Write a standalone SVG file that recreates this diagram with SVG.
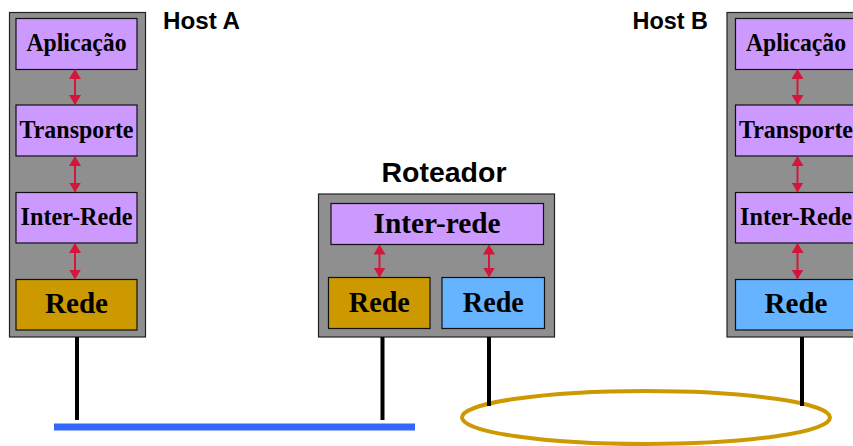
<svg xmlns="http://www.w3.org/2000/svg" width="853" height="446" viewBox="0 0 853 446">
<style>
.outer{fill:#8f8f8f;stroke:#222;stroke-width:1.2}
.lay{stroke:#111;stroke-width:1.2}
.purple{fill:#cc99ff}
.orange{fill:#cc9900}
.blue{fill:#66b3ff}
.lbl{font-family:"Liberation Serif",serif;font-weight:bold;font-size:26px;text-anchor:middle;fill:#000}
.big{font-size:30px}
.title{font-family:"Liberation Sans",Arial,sans-serif;font-weight:bold;fill:#000}
.arr{stroke:#d4163c;stroke-width:2;marker-start:url(#ah);marker-end:url(#ah)}
.wire{stroke:#000;stroke-width:4}
</style>
<defs>
<marker id="ah" viewBox="0 0 10 12" refX="9" refY="6" markerWidth="10" markerHeight="12" markerUnits="userSpaceOnUse" orient="auto-start-reverse">
<path d="M0,0 L10,6 L0,12 Z" fill="#d4163c"/>
</marker>
</defs>
<rect width="853" height="446" fill="#fff"/>
<g id="hostA">
<rect class="outer" x="9.5" y="12.5" width="136" height="324.5"/>
<rect class="lay purple" x="16" y="18.5" width="121" height="51"/>
<text class="lbl" x="76.5" y="51" textLength="100" lengthAdjust="spacingAndGlyphs">Aplicação</text>
<rect class="lay purple" x="16" y="105" width="121" height="51"/>
<text class="lbl" x="76.5" y="137.5" textLength="114" lengthAdjust="spacingAndGlyphs">Transporte</text>
<rect class="lay purple" x="16" y="192.5" width="121" height="50.5"/>
<text class="lbl" x="76.5" y="224.5" textLength="112" lengthAdjust="spacingAndGlyphs">Inter-Rede</text>
<rect class="lay orange" x="16" y="279.5" width="121" height="50.5"/>
<text class="lbl big" x="76.5" y="313" textLength="63" lengthAdjust="spacingAndGlyphs">Rede</text>
<text class="title" x="163" y="29" font-size="23" textLength="77" lengthAdjust="spacingAndGlyphs">Host A</text>
</g>
<g id="router">
<text class="title" x="444" y="182" font-size="28" text-anchor="middle" textLength="125" lengthAdjust="spacingAndGlyphs">Roteador</text>
<rect class="outer" x="318.5" y="194" width="236" height="143"/>
<rect class="lay purple" x="331" y="203.5" width="212.5" height="41"/>
<text class="lbl big" x="437" y="233" font-size="29" textLength="127" lengthAdjust="spacingAndGlyphs">Inter-rede</text>
<rect class="lay orange" x="328.5" y="277.5" width="101.5" height="51"/>
<text class="lbl big" x="379.3" y="312" textLength="61" lengthAdjust="spacingAndGlyphs">Rede</text>
<rect class="lay blue" x="442" y="277.5" width="102.5" height="51"/>
<text class="lbl big" x="493.3" y="312" textLength="61" lengthAdjust="spacingAndGlyphs">Rede</text>
</g>
<g id="hostB">
<rect class="outer" x="727" y="12.5" width="136" height="324.5"/>
<rect class="lay purple" x="735.5" y="18.5" width="121" height="51"/>
<text class="lbl" x="796" y="51" textLength="100" lengthAdjust="spacingAndGlyphs">Aplicação</text>
<rect class="lay purple" x="735.5" y="105" width="121" height="51"/>
<text class="lbl" x="796" y="137.5" textLength="114" lengthAdjust="spacingAndGlyphs">Transporte</text>
<rect class="lay purple" x="735.5" y="192.5" width="121" height="50.5"/>
<text class="lbl" x="796" y="224.5" textLength="112" lengthAdjust="spacingAndGlyphs">Inter-Rede</text>
<rect class="lay blue" x="735.5" y="279.5" width="121" height="50.5"/>
<text class="lbl big" x="796" y="313" textLength="63" lengthAdjust="spacingAndGlyphs">Rede</text>
<text class="title" x="632.5" y="29" font-size="23" textLength="75.5" lengthAdjust="spacingAndGlyphs">Host B</text>
</g>
<g id="networks">
<rect x="54" y="423.5" width="361" height="7" fill="#3366ff"/>
<ellipse cx="646" cy="417.5" rx="184" ry="26.5" fill="none" stroke="#cc9900" stroke-width="4"/>
</g>
<g id="connectors">
<line class="arr" x1="75" y1="70" x2="75" y2="104"/>
<line class="arr" x1="75" y1="157" x2="75" y2="191.5"/>
<line class="arr" x1="75" y1="244" x2="75" y2="278.5"/>
<line class="arr" x1="797.5" y1="70" x2="797.5" y2="104"/>
<line class="arr" x1="797.5" y1="157" x2="797.5" y2="191.5"/>
<line class="arr" x1="797.5" y1="244" x2="797.5" y2="278.5"/>
<line class="arr" x1="379.5" y1="245.5" x2="379.5" y2="276.5"/>
<line class="arr" x1="489" y1="245.5" x2="489" y2="276.5"/>
<line class="wire" x1="77" y1="337" x2="77" y2="420"/>
<line class="wire" x1="382.5" y1="337" x2="382.5" y2="420"/>
<line class="wire" x1="489" y1="337" x2="489" y2="406"/>
<line class="wire" x1="802" y1="337" x2="802" y2="406"/>
</g>
</svg>
